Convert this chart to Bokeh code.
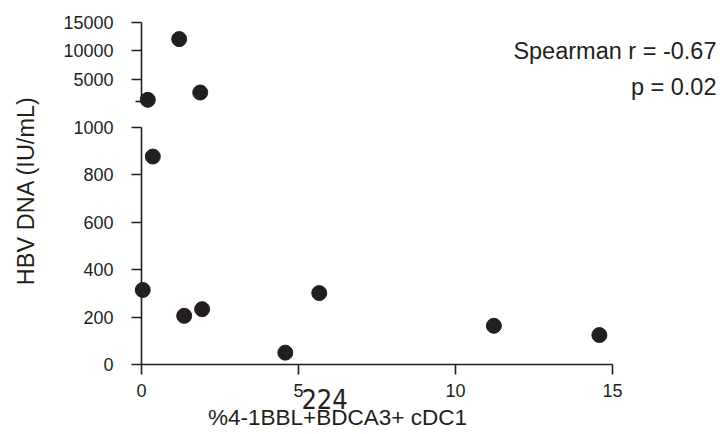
from math import pi
from bokeh.plotting import figure
from bokeh.models import Range1d, LinearAxis, FixedTicker, Label
from bokeh.core.properties import value
from bokeh.layouts import column, row
from bokeh.embed import file_html
from bokeh.resources import INLINE

# ---------------- data ----------------
x_ticks = [0, 5, 10, 15]
y_low_ticks = [0, 200, 400, 600, 800, 1000]
y_high_ticks = [5000, 10000, 15000]
y_high_minor = [1000]

# points above the axis break (HBV DNA > 1000)
x_high = [0.2, 1.2, 1.87]
y_high = [1340, 12070, 2630]
# points below the axis break
x_low = [0.04, 0.36, 1.36, 1.93, 4.58, 5.66, 11.22, 14.58]
y_low = [314, 876, 205, 233, 50, 301, 163, 124]

x_label = "%4-1BBL+BDCA3+ cDC1"
y_label = "HBV DNA (IU/mL)"
stat_lines = ["Spearman r = -0.67", "p = 0.02"]
fig_number = "224"

# ---------------- style ----------------
INK = "#231f20"
FONT = "Liberation Sans"
TICK_FS = "18px"
LABEL_FS = "23.5px"

xr = Range1d(0, 18.5)


def style_axis(ax):
    ax.axis_line_color = INK
    ax.axis_line_width = 1.6
    ax.major_tick_line_color = INK
    ax.major_tick_line_width = 1.6
    ax.minor_tick_line_color = INK
    ax.minor_tick_line_width = 1.6
    ax.major_tick_in = 0
    ax.major_tick_out = 10
    ax.minor_tick_in = 0
    ax.major_label_text_font = FONT
    ax.major_label_text_font_size = TICK_FS
    ax.major_label_text_color = INK


def clean(fig):
    fig.outline_line_color = None
    fig.grid.visible = False
    fig.background_fill_color = None
    fig.border_fill_color = None


# ---------- upper segment ----------
top = figure(width=682, height=112, x_range=xr, y_range=Range1d(-548, 15000),
             output_backend="svg", toolbar_location=None,
             x_axis_location=None, y_axis_location=None,
             min_border_left=101, min_border_right=0,
             min_border_top=22, min_border_bottom=2)
clean(top)
ax_top = LinearAxis(ticker=FixedTicker(ticks=y_high_ticks, minor_ticks=y_high_minor),
                    bounds=(1000, 15000))
style_axis(ax_top)
ax_top.minor_tick_out = 6
ax_top.major_label_standoff = 18
top.add_layout(ax_top, "left")
top.scatter(x_high, y_high, size=15, color=INK, level="overlay")

top.add_layout(Label(x=575, y=59.5, x_units="screen", y_units="screen",
                     text=stat_lines[0], text_align="right", text_baseline="alphabetic",
                     text_font=FONT, text_font_size=LABEL_FS, text_color=INK))
top.add_layout(Label(x=575, y=23.5, x_units="screen", y_units="screen",
                     text=stat_lines[1], text_align="right", text_baseline="alphabetic",
                     text_font=FONT, text_font_size=LABEL_FS, text_color=INK))

# ---------- lower segment ----------
bot = figure(width=682, height=322, x_range=xr, y_range=Range1d(0, 1049),
             output_backend="svg", toolbar_location=None,
             min_border_left=101, min_border_right=0,
             min_border_top=3, min_border_bottom=70)
clean(bot)
bot.xaxis.ticker = FixedTicker(ticks=x_ticks)
bot.xaxis.bounds = (0, 15)
bot.yaxis.ticker = FixedTicker(ticks=y_low_ticks)
bot.yaxis.bounds = (0, 1000)
for ax in bot.xaxis + bot.yaxis:
    style_axis(ax)
bot.xaxis.major_label_standoff = 9
bot.yaxis.major_label_standoff = 18
bot.scatter(x_low, y_low, size=15, color=INK, level="overlay")

# texts below the x axis (unclipped overlay text, placed in the lower panel's scale)
bot.text(x=[5.83], y=[-147], text=[fig_number], text_align="center",
         text_baseline="alphabetic",
         text_font=value("Liberation Sans Narrow, DejaVu Sans Condensed, sans-serif"),
         text_font_size="27px", text_color=INK, level="overlay")
bot.text(x=[6.24], y=[-223], text=[x_label], text_align="center",
         text_baseline="alphabetic", text_font=value(FONT),
         text_font_size="22.5px", text_color=INK, level="overlay")

# ---------- y label strip ----------
lab = figure(width=40, height=434, x_range=Range1d(0, 1), y_range=Range1d(0, 1),
             output_backend="svg", toolbar_location=None,
             x_axis_location=None, y_axis_location=None, min_border=0)
clean(lab)
lab.add_layout(Label(x=25, y=244, x_units="screen", y_units="screen", angle=pi / 2,
                     text=y_label, text_align="center", text_baseline="middle",
                     text_font=FONT, text_font_size=LABEL_FS, text_color=INK))

p = row(lab, column(top, bot))
open("out.html", "w").write(file_html(p, INLINE))
